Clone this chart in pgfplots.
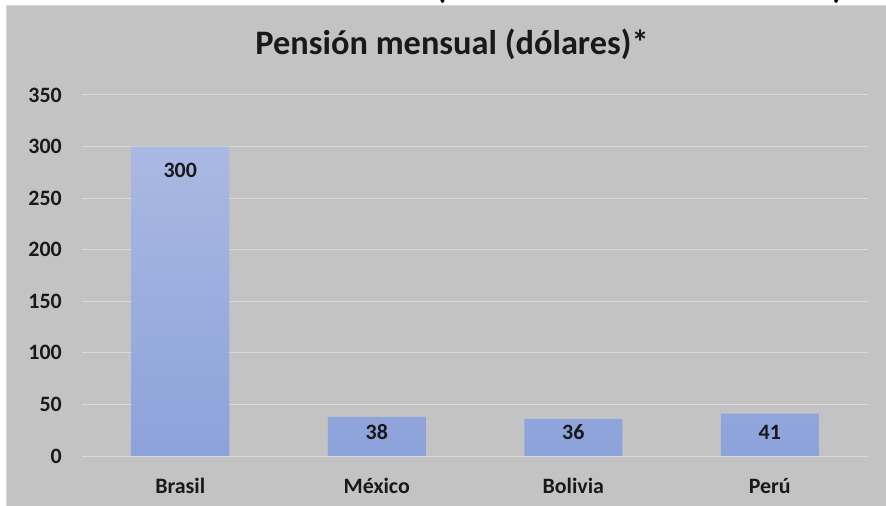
\documentclass[border=0pt]{standalone}
\usepackage{pgfplots}
\pgfplotsset{compat=1.18}
\usepackage{fontspec}
\setmainfont{Carlito}
\definecolor{panel}{RGB}{195,195,195}
\definecolor{gridc}{RGB}{217,217,217}
\definecolor{bartop}{RGB}{170,185,226}
\definecolor{barbot}{RGB}{140,162,218}
\begin{document}
\begin{tikzpicture}
  \useasboundingbox (-82bp,-50bp) rectangle (804bp,456bp);
  \fill[white] (-82bp,-50bp) rectangle (804bp,456bp);
  \fill[panel] (-75bp,-50bp) rectangle (804bp,451bp);
  \draw[gridc, line width=1bp] (-75.5bp,-50bp) -- (-75.5bp,450.5bp) -- (804bp,450.5bp);
  % bits of the cut-off heading above the chart
  \begin{scope}
    \clip (-82bp,451bp) rectangle (804bp,456bp);
    \node[font=\bfseries\fontsize{34}{40}\selectfont, anchor=south, inner sep=0pt] at (359bp,452bp) {(};
    \node[font=\bfseries\fontsize{34}{40}\selectfont, anchor=south, inner sep=0pt] at (756bp,452bp) {)};
  \end{scope}
  \node[font=\bfseries\fontsize{34.5}{40}\selectfont, anchor=base, inner sep=0pt, text=black!90]
    at (370bp,401bp) {Pensión mensual (dólares)*};
  \begin{axis}[
      at={(0,0)}, anchor=south west,
      scale only axis, width=786bp, height=361bp,
      xmin=-0.5, xmax=3.5, ymin=0, ymax=350,
      ytick={0,50,...,350},
      xtick=data, xticklabels={Brasil,México,Bolivia,Perú},
      axis line style={draw=none}, major tick length=0pt,
      ymajorgrids, major grid style={gridc, line width=1bp},
      ybar, bar width=98bp,
      /pgf/number format/assume math mode=true,
      tick label style={font=\bfseries\fontsize{22}{24}\selectfont, inner sep=0pt, text=black!90},
      yticklabel style={anchor=east, xshift=-20bp},
      xticklabel style={anchor=base, yshift=-37bp},
      nodes near coords,
      visualization depends on={rawy \as \rawy},
      % label inside the bar's end, but never lower than 23.5 px above the base
      every node near coord/.append style={anchor=center,
        yshift={max(-24,23.5-1.0314*\rawy)},
        font=\bfseries\fontsize{22}{24}\selectfont, inner sep=0pt, text=black!90},
    ]
    \addplot[draw=none, top color=bartop, bottom color=barbot] coordinates {
      (0,300) (1,38) (2,36) (3,41)
    };
  \end{axis}
\end{tikzpicture}
\end{document}
